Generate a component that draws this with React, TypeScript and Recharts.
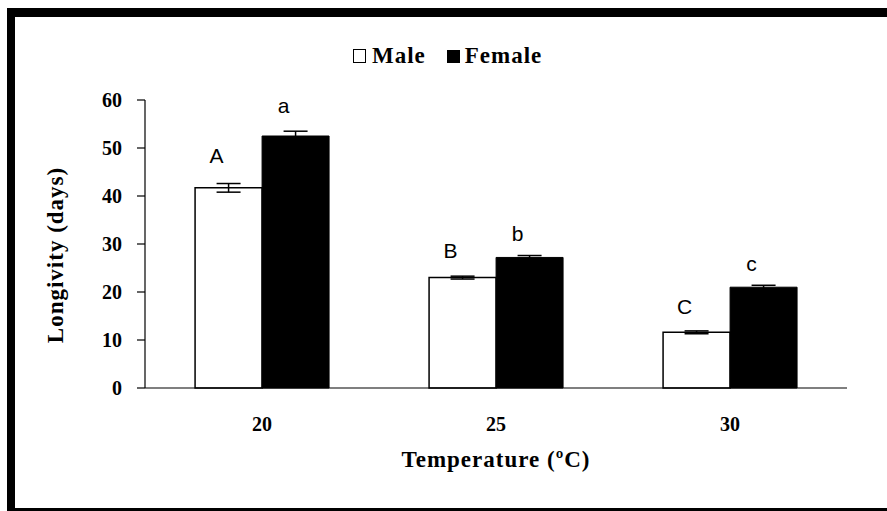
import React from "react";
import {
  BarChart,
  Bar,
  XAxis,
  YAxis,
  ErrorBar,
  LabelList,
  Label,
} from "recharts";

const categories = ["20", "25", "30"];
const maleValues = [41.7, 23.0, 11.6];
const femaleValues = [52.5, 27.2, 21.0];
const maleErrors = [0.9, 0.3, 0.3];
const femaleErrors = [1.0, 0.4, 0.4];
const maleLetters = ["A", "B", "C"];
const femaleLetters = ["a", "b", "c"];
const yTicks = [0, 10, 20, 30, 40, 50, 60];
const edgeTicks = [0, 1, 2, 3];

const SERIF = "'Liberation Serif', 'Times New Roman', serif";
const SANS = "'Liberation Sans', Arial, sans-serif";

const data = categories.map((c, i) => ({
  temp: c,
  male: maleValues[i],
  female: femaleValues[i],
  maleErr: maleErrors[i],
  femaleErr: femaleErrors[i],
  maleLetter: maleLetters[i],
  femaleLetter: femaleLetters[i],
}));

// letters sit a little above the error bar cap
function letterContent(errors: number[], values: number[], gap: number) {
  return (props: any) => {
    const { x, y, width, height, value, index } = props;
    const h = Number(height);
    const errPx = (errors[index] * h) / values[index];
    return (
      <text
        x={Number(x) + Number(width) / 2 - 12}
        y={Number(y) - errPx - gap - h * 0.03}
        textAnchor="middle"
        fontFamily={SANS}
        fontSize={21}
        fill="#000"
      >
        {value}
      </text>
    );
  };
}

function YLabel(props: any) {
  const { x, y, height } = props.viewBox;
  const cx = x + 25;
  const cy = y + height / 2 + 11;
  return (
    <text
      x={cx}
      y={cy}
      transform={`rotate(-90 ${cx} ${cy})`}
      textAnchor="middle"
      dominantBaseline="central"
      fontFamily={SERIF}
      fontWeight="bold"
      fontSize={23}
      letterSpacing={1}
      fill="#000"
    >
      Longivity (days)
    </text>
  );
}

export default function App() {
  return (
    <div
      style={{
        position: "fixed",
        left: 7,
        top: 8,
        width: 900,
        height: 491,
        borderLeft: "8px solid #000",
        borderTop: "9px solid #000",
        borderBottom: "8px solid #000",
        background: "#fff",
      }}
    >
      <div
        style={{
          position: "absolute",
          left: 338,
          top: 26,
          display: "flex",
          alignItems: "center",
          fontFamily: SERIF,
          fontWeight: "bold",
          fontSize: 23,
          letterSpacing: 1,
          lineHeight: "26px",
          color: "#000",
        }}
      >
        <span
          style={{
            display: "inline-block",
            width: 13,
            height: 14,
            border: "1px solid #000",
            boxSizing: "border-box",
            marginRight: 6,
          }}
        />
        <span>Male</span>
        <span
          style={{
            display: "inline-block",
            width: 13,
            height: 13,
            background: "#000",
            marginLeft: 21,
            marginRight: 5,
          }}
        />
        <span>Female</span>
      </div>
      <BarChart
        width={880}
        height={491}
        data={data}
        margin={{ top: 83, right: 48, left: 15, bottom: 0 }}
        barCategoryGap="21.4%"
        barGap={0}
      >
        <XAxis
          xAxisId="z"
          dataKey="temp"
          height={118}
          axisLine={false}
          tickLine={false}
          tickMargin={21}
          tick={{ fill: "#000", fontSize: 20, fontWeight: "bold", fontFamily: SERIF }}
        >
          <Label
            value="Temperature (ºC)"
            position="insideBottom"
            offset={41}
            fill="#000"
            fontSize={23}
            letterSpacing={1}
            fontWeight="bold"
            fontFamily={SERIF}
          />
        </XAxis>
        <XAxis
          xAxisId="a"
          type="number"
          domain={[0, 3]}
          ticks={edgeTicks}
          allowDataOverflow
          height={2}
          tick={false}
          tickSize={9}
          tickLine={{ stroke: "#000", strokeWidth: 1.2 }}
          axisLine={{ stroke: "#000", strokeWidth: 1.2 }}
        />
        <YAxis
          width={115}
          domain={[0, 60]}
          ticks={yTicks}
          tickSize={8}
          tickMargin={15}
          tickLine={{ stroke: "#000", strokeWidth: 1.2 }}
          axisLine={{ stroke: "#000", strokeWidth: 1.2 }}
          tick={{ fill: "#000", fontSize: 20, fontWeight: "bold", fontFamily: SERIF }}
          label={<YLabel />}
        />
        <Bar
          xAxisId="z"
          dataKey="male"
          fill="#fff"
          stroke="#000"
          strokeWidth={1.5}
          isAnimationActive={false}
        >
          <ErrorBar dataKey="maleErr" width={12} stroke="#000" strokeWidth={1.5} />
          <LabelList dataKey="maleLetter" content={letterContent(maleErrors, maleValues, 15)} />
        </Bar>
        <Bar
          xAxisId="z"
          dataKey="female"
          fill="#000"
          stroke="#000"
          strokeWidth={1}
          isAnimationActive={false}
        >
          <ErrorBar dataKey="femaleErr" width={12} stroke="#000" strokeWidth={1.5} />
          <LabelList dataKey="femaleLetter" content={letterContent(femaleErrors, femaleValues, 11)} />
        </Bar>
      </BarChart>
    </div>
  );
}
